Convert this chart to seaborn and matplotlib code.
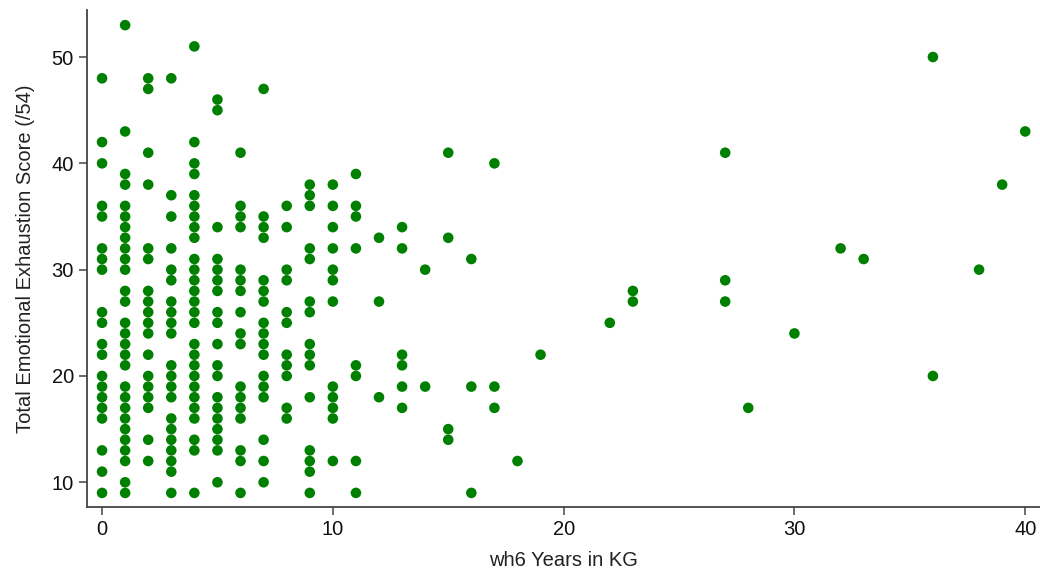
import numpy as np
import pandas as pd
import matplotlib
matplotlib.use("Agg")
import matplotlib.pyplot as plt
import seaborn as sns

# Years in KG and the emotional exhaustion scores recorded at each value
years_kg = [0, 1, 2, 3, 4, 5, 6, 7, 8, 9, 10, 11, 12, 13, 14, 15, 16, 17, 18, 19,
            22, 23, 27, 28, 30, 32, 33, 36, 38, 39, 40]
scores = [
    [48, 42, 40, 36, 35, 32, 31, 30, 26, 25, 23, 22, 20, 19, 18, 17, 16, 13, 11, 9],
    [53, 43, 39, 38, 36, 35, 34, 33, 32, 31, 30, 28, 27, 25, 24, 23, 22, 21, 19, 18,
     17, 16, 15, 14, 13, 12, 10, 9],
    [48, 47, 41, 38, 32, 31, 28, 27, 26, 25, 24, 22, 20, 19, 18, 17, 14, 12],
    [48, 37, 35, 32, 30, 29, 27, 26, 25, 24, 21, 20, 19, 18, 16, 15, 14, 13, 12, 11, 9],
    [51, 42, 40, 39, 37, 36, 35, 34, 33, 31, 30, 29, 28, 27, 26, 25, 23, 22, 21, 20,
     19, 18, 17, 16, 14, 13, 9],
    [46, 45, 34, 31, 30, 29, 28, 26, 25, 23, 21, 20, 18, 17, 16, 15, 14, 13, 10],
    [41, 36, 35, 34, 30, 29, 28, 26, 24, 23, 19, 18, 17, 16, 13, 12, 9],
    [47, 35, 34, 33, 29, 28, 27, 25, 24, 23, 22, 20, 19, 18, 14, 12, 10],
    [36, 34, 30, 29, 26, 25, 22, 21, 20, 17, 16],
    [38, 37, 36, 32, 31, 27, 26, 23, 22, 21, 18, 13, 12, 11, 9],
    [38, 36, 34, 32, 30, 29, 27, 19, 18, 17, 16, 12],
    [39, 36, 35, 32, 21, 20, 12, 9],
    [33, 27, 18],
    [34, 32, 22, 21, 19, 17],
    [30, 19],
    [41, 33, 15, 14],
    [31, 19, 9],
    [40, 19, 17],
    [12],
    [22],
    [25],
    [28, 27],
    [41, 29, 27],
    [17],
    [24],
    [32],
    [31],
    [50, 20],
    [30],
    [38],
    [43],
]

rows = [(x, s) for x, col in zip(years_kg, scores) for s in col]
df = pd.DataFrame(rows, columns=["years", "score"])

sns.set_style("ticks")
plt.rcParams["font.family"] = ["Liberation Sans", "DejaVu Sans"]

fig = plt.figure(figsize=(10.4, 5.7), dpi=100)
ax = fig.add_axes([0.0837, 0.111, 0.9163, 0.871])

sns.scatterplot(data=df, x="years", y="score", ax=ax, color="#008000",
                s=58, edgecolor="none", linewidth=0)

ax.set_xlim(-0.65, 40.64)
ax.set_ylim(7.7, 54.4)
ax.set_xticks([0, 10, 20, 30, 40])
ax.set_yticks([10, 20, 30, 40, 50])
ax.tick_params(labelsize=14.5, length=6, width=1.1, color="#444444", labelcolor="#111111")
for side in ["top", "right"]:
    ax.spines[side].set_visible(False)
for side in ["left", "bottom"]:
    ax.spines[side].set_color("#444444")
    ax.spines[side].set_linewidth(1.3)

ax.set_xlabel("wh6 Years in KG", fontsize=14.5, color="#222222", labelpad=9)
ax.set_ylabel("Total Emotional Exhaustion Score (/54)", fontsize=14.5, color="#222222", labelpad=12)

fig.savefig("out.png", dpi=100)
